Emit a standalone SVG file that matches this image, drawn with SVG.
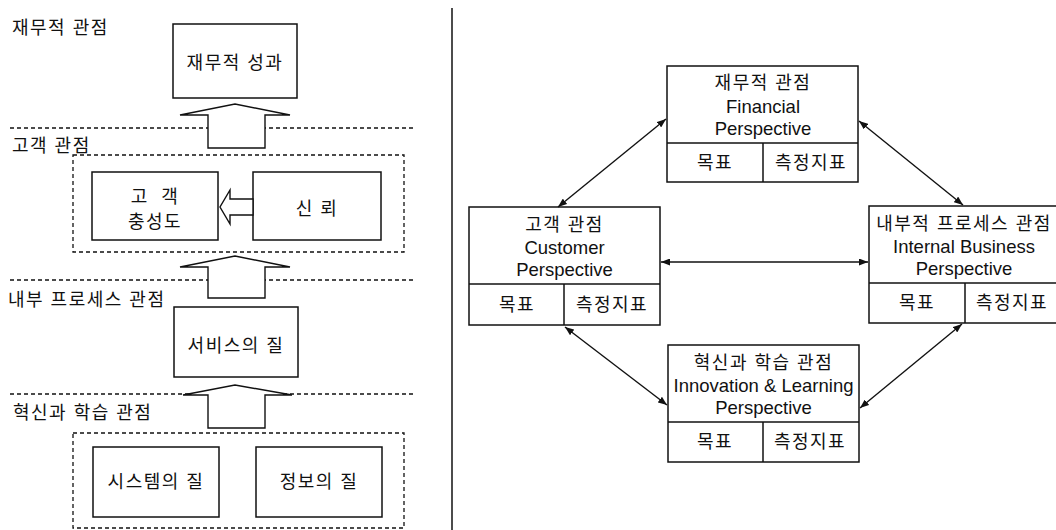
<svg xmlns="http://www.w3.org/2000/svg" width="1056" height="530" viewBox="0 0 1056 530">
<style>
text{font-family:"Liberation Sans","Noto Sans CJK KR",sans-serif;fill:#111;text-anchor:middle;dominant-baseline:central}
.ko{font-size:18px;letter-spacing:1.5px}
.en{font-size:18.5px}
.lbl{text-anchor:start}
.box{fill:#fff;stroke:#111;stroke-width:1.5}
.dash{fill:none;stroke:#111;stroke-width:1.3;stroke-dasharray:4 3}
.barrow{fill:#fff;stroke:#111;stroke-width:1.4;stroke-linejoin:miter}
.conn{fill:none;stroke:#111;stroke-width:1.4;marker-start:url(#ah);marker-end:url(#ah)}
</style>
<defs>
<marker id="ah" viewBox="0 0 10 10" refX="10" refY="5" markerWidth="9" markerHeight="7" markerUnits="userSpaceOnUse" orient="auto-start-reverse" preserveAspectRatio="none">
<path d="M0,0 L10,5 L0,10 Z" fill="#111"/>
</marker>
</defs>
<rect width="1056" height="530" fill="#fff"/>

<!-- left panel -->
<g id="left-layers">
<line class="dash" x1="10" y1="128" x2="415" y2="128"/>
<line class="dash" x1="10" y1="280" x2="415" y2="280"/>
<line class="dash" x1="10" y1="394" x2="415" y2="394"/>
<text class="ko lbl" x="12" y="28">재무적 관점</text>
<text class="ko lbl" x="12" y="146">고객 관점</text>
<text class="ko lbl" x="8" y="300">내부 프로세스 관점</text>
<text class="ko lbl" x="13" y="413">혁신과 학습 관점</text>
</g>
<line id="divider" x1="452" y1="8" x2="452" y2="530" stroke="#111" stroke-width="1.5"/>

<g id="n-fin-result">
<rect class="box" x="173" y="24" width="124" height="74"/>
<text class="ko" x="235" y="63">재무적 성과</text>
</g>
<g id="g-customer">
<rect class="dash" x="73" y="155" width="331" height="97"/>
</g>
<g id="n-loyalty">
<rect class="box" x="92" y="172" width="126" height="68"/>
<text class="ko" x="155" y="197" word-spacing="6">고 객</text>
<text class="ko" x="155" y="222">충성도</text>
</g>
<g id="n-trust">
<rect class="box" x="253" y="172" width="128" height="68"/>
<text class="ko" x="317" y="209">신 뢰</text>
</g>
<g id="n-service">
<rect class="box" x="174" y="307" width="124" height="70"/>
<text class="ko" x="236" y="346">서비스의 질</text>
</g>
<g id="g-innovation">
<rect class="dash" x="73" y="433" width="331" height="95"/>
</g>
<g id="n-system">
<rect class="box" x="93" y="447" width="126" height="70"/>
<text class="ko" x="156" y="482">시스템의 질</text>
</g>
<g id="n-info">
<rect class="box" x="256" y="447" width="126" height="70"/>
<text class="ko" x="319" y="482">정보의 질</text>
</g>

<g id="left-arrows">
<polygon class="barrow" points="208,148 208,115 180,115 235,104 290,115 265,115 265,148"/>
<polygon class="barrow" points="208,298 208,267 180,267 235,256 290,267 265,267 265,298"/>
<polygon class="barrow" points="208,428 208,395 183,395 235,385 292,395 265,395 265,428"/>
<polygon class="barrow" points="253,199 230,199 230,190 220,207 230,224 230,215 253,215"/>
</g>

<!-- right panel -->
<g id="n-financial">
<rect class="box" x="667" y="66" width="191" height="116"/>
<line x1="667" y1="143" x2="858" y2="143" stroke="#111" stroke-width="1.5"/>
<line x1="763" y1="143" x2="763" y2="182" stroke="#111" stroke-width="1.5"/>
<text class="ko" x="763" y="83">재무적 관점</text>
<text class="en" x="763" y="106">Financial</text>
<text class="en" x="763" y="128">Perspective</text>
<text class="ko" x="715" y="163">목표</text>
<text class="ko" x="811" y="163">측정지표</text>
</g>
<g id="n-customer">
<rect class="box" x="469" y="207" width="191" height="118"/>
<line x1="469" y1="284" x2="660" y2="284" stroke="#111" stroke-width="1.5"/>
<line x1="564" y1="284" x2="564" y2="325" stroke="#111" stroke-width="1.5"/>
<text class="ko" x="564.5" y="225">고객 관점</text>
<text class="en" x="564.5" y="247">Customer</text>
<text class="en" x="564.5" y="269">Perspective</text>
<text class="ko" x="517" y="305">목표</text>
<text class="ko" x="612" y="305">측정지표</text>
</g>
<g id="n-internal">
<rect class="box" x="869" y="206" width="191" height="117"/>
<line x1="869" y1="283" x2="1060" y2="283" stroke="#111" stroke-width="1.5"/>
<line x1="965" y1="283" x2="965" y2="323" stroke="#111" stroke-width="1.5"/>
<text class="ko" x="964" y="224">내부적 프로세스 관점</text>
<text class="en" x="964" y="246">Internal Business</text>
<text class="en" x="964" y="268">Perspective</text>
<text class="ko" x="917" y="303">목표</text>
<text class="ko" x="1012" y="303">측정지표</text>
</g>
<g id="n-innovation">
<rect class="box" x="668" y="345" width="191" height="117"/>
<line x1="668" y1="422" x2="859" y2="422" stroke="#111" stroke-width="1.5"/>
<line x1="763" y1="422" x2="763" y2="462" stroke="#111" stroke-width="1.5"/>
<text class="ko" x="763.5" y="363">혁신과 학습 관점</text>
<text class="en" x="763.5" y="385">Innovation &amp; Learning</text>
<text class="en" x="763.5" y="407">Perspective</text>
<text class="ko" x="715" y="442">목표</text>
<text class="ko" x="810" y="442">측정지표</text>
</g>

<g id="connectors">
<line class="conn" x1="558" y1="207" x2="666" y2="119"/>
<line class="conn" x1="859" y1="121" x2="963" y2="205"/>
<line class="conn" x1="661" y1="262" x2="868" y2="262"/>
<line class="conn" x1="565" y1="327" x2="667" y2="405"/>
<line class="conn" x1="962" y1="324" x2="860" y2="408"/>
</g>
</svg>
